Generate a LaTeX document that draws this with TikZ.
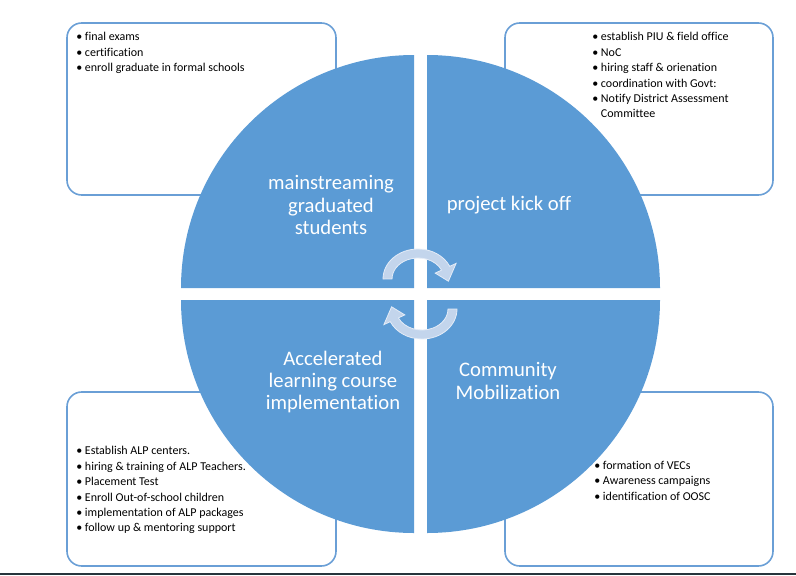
\documentclass[tikz,border=0pt]{standalone}
\usepackage{fontspec}
\setmainfont{Carlito}[Ligatures={NoCommon, NoRequired, NoContextual}]
\usetikzlibrary{positioning, fit}

\begin{document}
\begin{tikzpicture}[x=0.75pt, y=-0.75pt]

\definecolor{QuadBlue}{HTML}{5B9BD5}
\definecolor{BoxLine}{HTML}{6A9FD6}
\definecolor{ArrowFill}{HTML}{C3D5EC}
\definecolor{ArrowLine}{HTML}{E4ECF7}
\definecolor{BaseLine}{HTML}{26343C}

\tikzset{
  infobox/.style={draw=BoxLine, line width=1.2pt, rounded corners=11pt, fill=white, inner sep=0pt},
  quad/.style={fill=QuadBlue},
  quadlabel/.style={text=white, align=center, font=\fontsize{15.5}{16.8}\selectfont},
  bullets/.style={anchor=north west, inner sep=0pt, align=left, font=\fontsize{9}{11.6}\selectfont},
  cycarrow/.style={fill=ArrowFill, draw=ArrowLine, line width=0.6pt}
}

\useasboundingbox (0,0) rectangle (796,575);

%boxes
\node[infobox, fit={(67,23) (336,195)}] (gradbox) {};
\node[infobox, fit={(505,23) (773,195)}] (kickbox) {};
\node[infobox, fit={(67,392) (336,566)}] (alpbox) {};
\node[infobox, fit={(505,392) (773,566)}] (commbox) {};

%circle
\fill[quad] (414,288) -- (181,288) arc[start angle=180, end angle=270, radius=233] -- cycle;
\fill[quad] (427,288) -- (427,55) arc[start angle=270, end angle=360, radius=233] -- cycle;
\fill[quad] (414,300) -- (414,533) arc[start angle=90, end angle=180, radius=233] -- cycle;
\fill[quad] (427,300) -- (660,300) arc[start angle=0, end angle=90, radius=233] -- cycle;

%cycle arrows
\foreach \rot in {0,180} {
  \begin{scope}[rotate around={\rot:(420,294)}]
    \draw[cycarrow] (383,279) arc[start angle=180, end angle=335, x radius=35, y radius=30]
      -- (456.1,263.4) -- (448.4,281.2) -- (435.2,273.1) -- (441.6,270.1)
      arc[start angle=335, end angle=180, x radius=26, y radius=21] -- cycle;
  \end{scope}
}

\node[quadlabel] (gradlbl) at (331,205) {mainstreaming\\graduated\\students};
\node[quadlabel] (kicklbl) at (509,205) {project kick off};
\node[quadlabel] (alplbl) at (333,382) {Accelerated\\learning course\\implementation};
\node[quadlabel] (commlbl) at (508,381) {Community\\Mobilization};

%lists
\node[bullets] (gradlist) at (76,32) {• final exams\\• certification\\• enroll graduate in formal schools};
\node[bullets] (kicklist) at (592,32) {• establish PIU \& field office\\• NoC\\• hiring staff \& orienation\\• coordination with Govt:\\• Notify District Assessment\\\phantom{• }Committee};
\node[bullets] (alplist) at (76,446) {• Establish ALP centers.\\• hiring \& training of ALP Teachers.\\• Placement Test\\• Enroll Out-of-school children\\• implementation of ALP packages\\• follow up \& mentoring support};
\node[bullets] (commlist) at (594,461) {• formation of VECs\\• Awareness campaigns\\• identification of OOSC};

\fill[BaseLine] (0,572.5) rectangle (796,575);
\end{tikzpicture}
\end{document}
